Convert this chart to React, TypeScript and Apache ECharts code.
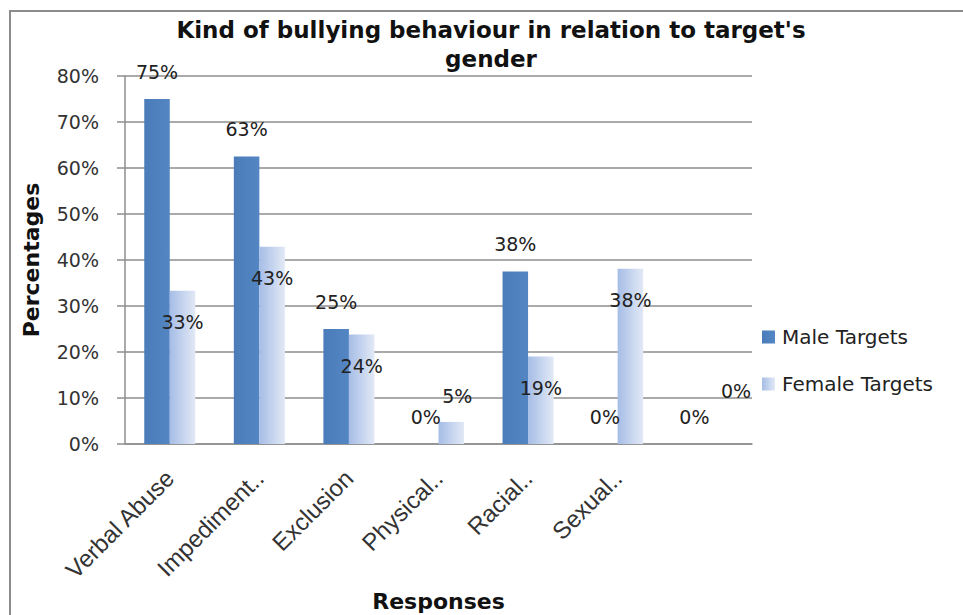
import React, { useEffect, useRef } from "react";
import * as echarts from "echarts";

const categories = ["Verbal Abuse", "Impediment..", "Exclusion", "Physical..", "Racial..", "Sexual..", ""];
const maleTargets = [75, 62.5, 25, 0, 37.5, 0, 0];
const femaleTargets = [33.3, 42.9, 23.8, 4.8, 19.0, 38.1, 0];
const yTicks = [0, 10, 20, 30, 40, 50, 60, 70, 80];

const titleText = "Kind of bullying behaviour in relation to target's\ngender";

export default function App() {
  const ref = useRef<HTMLDivElement>(null);
  useEffect(() => {
    if (!ref.current) return;
    const chart = echarts.init(ref.current, null, { renderer: "svg" });
    const maleGrad = new echarts.graphic.LinearGradient(0, 0, 1, 0, [
      { offset: 0, color: "#4a7cba" },
      { offset: 1, color: "#5586c4" },
    ]);
    const femaleGrad = new echarts.graphic.LinearGradient(0, 0, 1, 0, [
      { offset: 0, color: "#a6bde6" },
      { offset: 1, color: "#e2e9f6" },
    ]);
    const labelFont = { fontFamily: "DejaVu Sans", fontSize: 19, color: "#222" };
    const fmt = (p: any) => Math.round(p.value) + "%";
    const femaleData = femaleTargets.map((v, i) => {
      if (i === 3) {
        return { value: v, label: { position: "top", distance: 12, offset: [6, -4] } };
      }
      if (i === 6) {
        return { value: v, label: { position: "top", distance: 18, offset: [16, -26] } };
      }
      return { value: v };
    });
    chart.setOption({
      animation: false,
      backgroundColor: "#fff",
      title: {
        text: titleText,
        left: 486,
        textAlign: "center",
        top: 10,
        textStyle: {
          fontFamily: "DejaVu Sans",
          fontWeight: "bold",
          fontSize: 23,
          color: "#111",
          lineHeight: 29,
        },
      },
      graphic: [
        {
          type: "rect",
          shape: { x: 10, y: 11, width: 980, height: 620 },
          style: { fill: "none", stroke: "#8c8c8c", lineWidth: 2 },
          silent: true,
        },
      ],
      legend: {
        orient: "vertical",
        left: 757,
        top: 322,
        itemWidth: 13,
        itemHeight: 13,
        itemGap: 27,
        icon: "rect",
        textStyle: { fontFamily: "DejaVu Sans", fontSize: 20, color: "#222", padding: [0, 0, 0, 2] },
        data: ["Male Targets", "Female Targets"],
      },
      grid: { left: 125, right: 211, top: 76, bottom: 171, outerBoundsMode: "none", containLabel: false },
      xAxis: {
        type: "category",
        data: categories,
        name: "Responses",
        nameLocation: "middle",
        nameGap: 143,
        nameTextStyle: {
          fontFamily: "DejaVu Sans",
          fontWeight: "bold",
          fontSize: 22,
          color: "#111",
          verticalAlign: "top",
        },
        axisLine: { lineStyle: { color: "#8e8e8e", width: 1.5 } },
        axisTick: { length: 8, lineStyle: { color: "#8e8e8e", width: 1.5 } },
        axisLabel: {
          rotate: 45,
          interval: 0,
          margin: 30,
          fontFamily: "Liberation Sans",
          fontSize: 24,
          color: "#333",
        },
      },
      yAxis: {
        type: "value",
        min: 0,
        max: 80,
        interval: 10,
        name: "Percentages",
        nameLocation: "middle",
        nameGap: 83,
        nameTextStyle: {
          fontFamily: "DejaVu Sans",
          fontWeight: "bold",
          fontSize: 22,
          color: "#111",
        },
        axisLine: { show: true, lineStyle: { color: "#8e8e8e", width: 1.5 } },
        axisTick: { show: true, length: 8, lineStyle: { color: "#8e8e8e", width: 1.5 } },
        splitLine: { lineStyle: { color: "#8e8e8e", width: 1.5 } },
        axisLabel: {
          margin: 26,
          fontFamily: "DejaVu Sans",
          fontSize: 19,
          color: "#333",
          formatter: (v: number) => (yTicks.includes(v) ? v + "%" : ""),
        },
      },
      series: [
        {
          name: "Male Targets",
          type: "bar",
          data: maleTargets,
          barGap: "0%",
          barCategoryGap: "43%",
          itemStyle: { color: maleGrad },
          label: { show: true, position: "top", distance: 18, formatter: fmt, ...labelFont },
        },
        {
          name: "Female Targets",
          type: "bar",
          data: femaleData,
          barGap: "0%",
          barCategoryGap: "43%",
          itemStyle: { color: femaleGrad },
          label: { show: true, position: "insideTop", distance: 22, formatter: fmt, ...labelFont },
        },
      ],
    });
    return () => chart.dispose();
  }, []);
  return (
    <div
      ref={ref}
      style={{ position: "fixed", left: 0, top: 0, width: 963, height: 615 }}
    />
  );
}
